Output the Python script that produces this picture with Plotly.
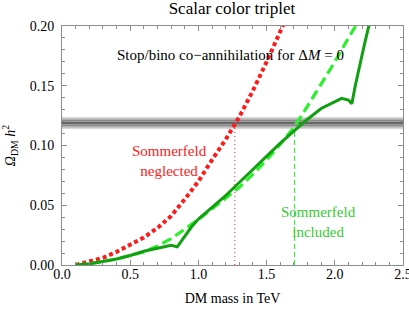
import plotly.graph_objects as go

# ---- data ----
mass_red = [0.1, 0.2, 0.3, 0.4, 0.5, 0.6, 0.7, 0.8, 0.9, 1.0, 1.1, 1.2, 1.3, 1.4, 1.5, 1.6, 1.63]
omega_red = [0.000, 0.003, 0.006, 0.011, 0.017, 0.023, 0.031, 0.041, 0.055, 0.070, 0.088,
             0.105, 0.124, 0.146, 0.170, 0.196, 0.203]

mass_light = [0.1, 0.2, 0.3, 0.4, 0.5, 0.6, 0.7, 0.8, 0.9, 1.0, 1.1, 1.2, 1.3, 1.4, 1.5,
              1.6, 1.7, 1.8, 1.9, 2.0, 2.1, 2.18]
omega_light = [0.000, 0.001, 0.003, 0.005, 0.008, 0.011, 0.016, 0.022, 0.030, 0.038, 0.047,
               0.056, 0.065, 0.076, 0.088, 0.101, 0.115, 0.133, 0.151, 0.170, 0.190, 0.205]

mass_dark = [0.1, 0.2, 0.3, 0.4, 0.5, 0.6, 0.7, 0.8, 0.845, 0.9, 0.95, 1.0, 1.1, 1.2, 1.3,
             1.4, 1.5, 1.6, 1.7, 1.8, 1.9, 2.0, 2.05, 2.1, 2.125, 2.15, 2.185, 2.22, 2.26]
omega_dark = [0.000, 0.001, 0.003, 0.005, 0.008, 0.0115, 0.014, 0.0165, 0.0152, 0.024, 0.032,
              0.0385, 0.048, 0.058, 0.069, 0.080, 0.091, 0.102, 0.112, 0.122, 0.131, 0.137,
              0.1395, 0.138, 0.135, 0.150, 0.169, 0.186, 0.205]

omega_obs = 0.1188          # observed relic abundance band centre
omega_obs_err = 0.005       # band half-width
mass_cross_red = 1.267      # Sommerfeld neglected crossing
mass_cross_green = 1.705    # Sommerfeld included crossing

x_ticks = [0.0, 0.5, 1.0, 1.5, 2.0, 2.5]
x_tick_labels = ["0.0", "0.5", "1.0", "1.5", "2.0", "2.5"]
y_ticks = [0.00, 0.05, 0.10, 0.15, 0.20]
y_tick_labels = ["0.00", "0.05", "0.10", "0.15", "0.20"]

FONT = "Liberation Serif, Times New Roman, serif"
RED = "#ff1a1a"
LIGHT = "#2af02a"
DARK = "#10a010"

fig = go.Figure()

# observed band (layered greys)
band_layers = [(1.0, "#d8d8d8"), (0.75, "#b0b0b0"), (0.5, "#8a8a8a"), (0.3, "#a0a0a0"), (0.12, "#555555")]
for frac, col in band_layers:
    fig.add_shape(type="rect", xref="x", yref="y", x0=0, x1=2.5,
                  y0=omega_obs - omega_obs_err * frac, y1=omega_obs + omega_obs_err * frac,
                  fillcolor=col, line_width=0, layer="below")

# vertical guide lines
fig.add_trace(go.Scatter(x=[mass_cross_red, mass_cross_red], y=[0, omega_obs], mode="lines",
                         line=dict(color=RED, width=1, dash="1px,3px"), hoverinfo="skip",
                         showlegend=False))
fig.add_trace(go.Scatter(x=[mass_cross_green, mass_cross_green], y=[0, 0.112], mode="lines",
                         line=dict(color=LIGHT, width=1, dash="5px,3px"), hoverinfo="skip",
                         showlegend=False))

fig.add_trace(go.Scatter(x=mass_red, y=omega_red, mode="lines",
                         line=dict(color=RED, width=4, dash="4px,3px"), showlegend=False))
fig.add_trace(go.Scatter(x=mass_light, y=omega_light, mode="lines",
                         line=dict(color=LIGHT, width=3.2, dash="10px,5px"), showlegend=False))
fig.add_trace(go.Scatter(x=mass_dark, y=omega_dark, mode="lines",
                         line=dict(color=DARK, width=3), showlegend=False))

axis_common = dict(showline=True, linecolor="#8c8c8c", linewidth=1, mirror="allticks",
                   ticks="inside", ticklen=5, tickcolor="#8c8c8c", showgrid=False, zeroline=False,
                   automargin=False, ticklabeloverflow="allow",
                   tickfont=dict(family=FONT, size=14, color="black"))

fig.update_xaxes(range=[0, 2.5], tickvals=x_ticks, ticktext=x_tick_labels, ticklabelstandoff=-4,
                 minor=dict(dtick=0.1, ticks="inside", ticklen=3, tickcolor="#8c8c8c", showgrid=False),
                 title=dict(text="DM mass in TeV", font=dict(family=FONT, size=14, color="black"),
                            standoff=12),
                 **axis_common)
fig.update_yaxes(range=[0, 0.2], tickvals=y_ticks, ticktext=y_tick_labels, ticklabelstandoff=4,
                 minor=dict(dtick=0.01, ticks="inside", ticklen=3, tickcolor="#8c8c8c", showgrid=False),
                 title=dict(text="<i>Ω</i><sub>DM</sub> <i>h</i><sup>2</sup>",
                            font=dict(family=FONT, size=14, color="black"), standoff=10),
                 **axis_common)

fig.add_annotation(text="Stop/bino co\u2212annihilation for \u0394<i>M</i> = 0", xref="paper", yref="paper",
                   x=0.493, y=0.92, showarrow=False, font=dict(family=FONT, size=15, color="black"))
fig.add_annotation(text="Sommerfeld<br>neglected", xref="x", yref="y", x=0.79, y=0.087,
                   showarrow=False, font=dict(family=FONT, size=15, color=RED))
fig.add_annotation(text="Sommerfeld<br>included", xref="x", yref="y", x=1.884, y=0.0362,
                   showarrow=False, font=dict(family=FONT, size=15, color="#33cc33"))

fig.update_layout(
    width=409, height=313,
    margin=dict(l=62, r=6, t=26, b=48),
    paper_bgcolor="white", plot_bgcolor="white",
    title=dict(text="Scalar color triplet", x=0.567, xanchor="center", y=0.975, yanchor="middle",
               font=dict(family=FONT, size=17, color="black")),
)

fig.write_html("out.html", config={"displayModeBar": False},
               post_script="document.body.style.margin='0';")
